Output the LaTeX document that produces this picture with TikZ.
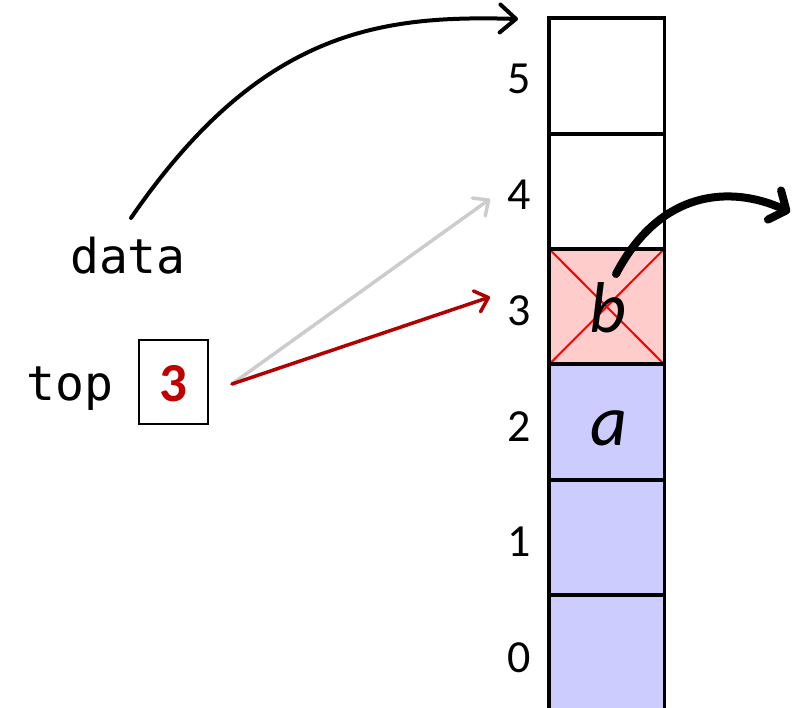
\documentclass[tikz,border=0pt]{standalone}
\usepackage{fontspec}
\setmainfont{Carlito}
\setmonofont{DejaVu Sans Mono}
\usetikzlibrary{arrows.meta}
\definecolor{cellblue}{HTML}{CCCCFF}
\definecolor{cellpink}{HTML}{FFCCCC}
\definecolor{topred}{HTML}{C00000}
\definecolor{arrred}{HTML}{B00000}
\definecolor{arrgray}{HTML}{CCCCCC}
\begin{document}
\begin{tikzpicture}[x=1pt,y=-1pt,
  cellbox/.style={minimum width=115pt,minimum height=115.4pt,inner sep=0pt,anchor=north west},
  idx/.style={font=\fontsize{46}{48}\selectfont,anchor=base},
  tt/.style={font=\fontsize{48}{50}\selectfont\ttfamily,anchor=base},
  var/.style={font=\fontsize{72}{74}\selectfont\itshape,anchor=base},
  border/.style={line width=3.5pt}
]
\useasboundingbox (0,0) rectangle (797,708);
\begin{scope}
\clip (0,0) rectangle (797,708);
\node[cellbox,fill=cellblue] (c0) at (549,595) {};
\node[cellbox,fill=cellblue] (c1) at (549,479.6) {};
\node[cellbox,fill=cellblue] (c2) at (549,364.2) {};
\node[cellbox,fill=cellpink] (c3) at (549,248.8) {};
\node[cellbox,fill=white] (c4) at (549,133.4) {};
\node[cellbox,fill=white] (c5) at (549,18) {};
\draw[red,line width=2pt] (c3.north west) -- (c3.south east) (c3.north east) -- (c3.south west);
\foreach \i in {0,...,5}{
  \draw[border] (c\i.north west) rectangle (c\i.south east);
}
\end{scope}
\node[var] (b) at (608,332) {b};
\node[var] (a) at (609,445) {a};
\node[idx] (l5) at (519,94) {5};
\node[idx] (l4) at (519,210) {4};
\node[idx] (l3) at (519,325) {3};
\node[idx] (l2) at (519,441) {2};
\node[idx] (l1) at (519,556) {1};
\node[idx] (l0) at (519,672) {0};
\node[tt] (data) at (128,274) {data};
\node[tt] (top) at (70,400) {top};
\node[draw,line width=1.5pt,minimum width=69pt,minimum height=84pt,inner sep=0pt] (tb) at (173.5,382) {};
\node[font=\fontsize{55}{57}\selectfont\bfseries,text=topred,anchor=base] (tv) at (173.5,401) {3};
\coordinate (s) at (232,384);
\coordinate (e4) at (490,199);
\coordinate (e3) at (490,297);
\draw[arrgray,line width=3.5pt,line cap=round,-{Straight Barb[length=12pt,width=22pt,round]}] (s) -- (e4);
\draw[arrred,line width=3.5pt,line cap=round,-{Straight Barb[length=12pt,width=22pt,round]}] (s) -- (e3);
\coordinate (d0) at (131,218);
\coordinate (d1) at (518,19);
\draw[line width=4pt,line cap=round,-{Straight Barb[length=16pt,width=28pt,round]}] (d0) .. controls (260,30) and (380,15) .. (d1);
\coordinate (p0) at (616,274);
\coordinate (p1) at (790,212);
\draw[line width=8pt,line cap=round,-{Straight Barb[length=13pt,width=32pt,round]}] (p0) .. controls (660,190) and (730,185) .. (p1);
\end{tikzpicture}
\end{document}
